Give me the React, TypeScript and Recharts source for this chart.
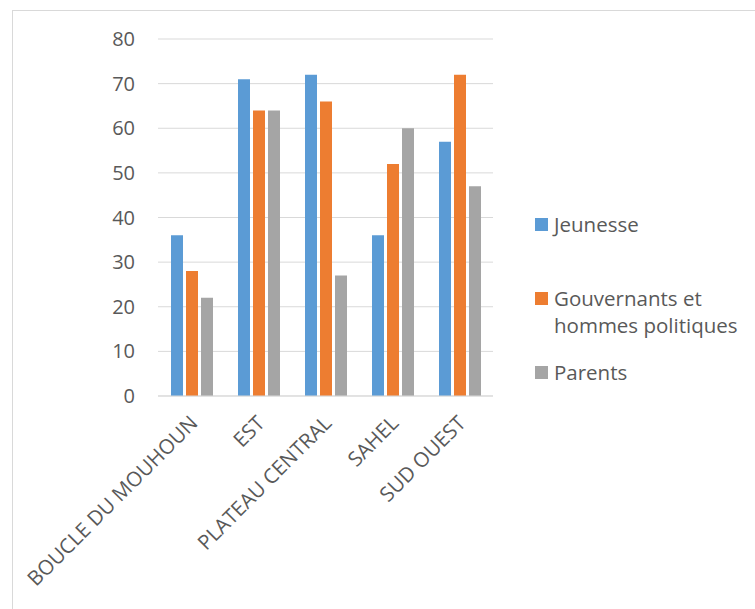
import React from "react";
import { BarChart, Bar, XAxis, YAxis, CartesianGrid, Legend } from "recharts";

const categories = ["BOUCLE DU MOUHOUN", "EST", "PLATEAU CENTRAL", "SAHEL", "SUD OUEST"];
const jeunesse = [36, 71, 72, 36, 57];
const gouvernants = [28, 64, 66, 52, 72];
const parents = [22, 64, 27, 60, 47];
const yTicks = [0, 10, 20, 30, 40, 50, 60, 70, 80];

const seriesNames = ["Jeunesse", "Gouvernants et hommes politiques", "Parents"];
const legendLines: Record<string, string[]> = {
  Jeunesse: ["Jeunesse"],
  "Gouvernants et hommes politiques": ["Gouvernants et", "hommes politiques"],
  Parents: ["Parents"],
};

const data = categories.map((c, i) => ({
  name: c,
  j: jeunesse[i],
  g: gouvernants[i],
  p: parents[i],
}));

const FONT = "'Open Sans', sans-serif";
const TEXT = "#595959";

const XTick = (props: any) => {
  const { x, y, payload } = props;
  const px = x - 5;
  const py = y + 4;
  return (
    <text
      x={px}
      y={py}
      transform={`rotate(-45 ${px} ${py})`}
      textAnchor="end"
      dominantBaseline="hanging"
      fill={TEXT}
      fontSize={20.5}
      fontFamily={FONT}
    >
      {payload.value}
    </text>
  );
};

const LegendContent = (props: any) => {
  const payload = [...(props.payload || [])].sort(
    (a: any, b: any) => seriesNames.indexOf(a.value) - seriesNames.indexOf(b.value)
  );
  return (
    <div style={{ fontFamily: FONT, fontSize: 20.5, color: TEXT }}>
      {payload.map((it: any) => (
        <div key={it.value} style={{ height: 74, display: "flex", alignItems: "flex-start" }}>
          <div style={{ width: 13, height: 13, background: it.color, marginTop: 7, marginRight: 6, flexShrink: 0 }} />
          <div style={{ lineHeight: "27px" }}>
            {(legendLines[it.value] || [it.value]).map((l: string) => (
              <div key={l} style={{ whiteSpace: "nowrap" }}>{l}</div>
            ))}
          </div>
        </div>
      ))}
    </div>
  );
};

export default function App() {
  return (
    <div style={{ position: "fixed", left: 0, top: 0, width: 755, height: 609, overflow: "hidden", background: "#fff" }}>
      <div style={{ position: "absolute", left: 12, top: 10, width: 800, height: 700, border: "1px solid #d9d9d9", boxSizing: "border-box" }} />
      <div style={{ position: "absolute", left: 0, top: 0 }}>
        <BarChart
          width={755}
          height={609}
          data={data}
          margin={{ top: 39, right: 262, bottom: 0, left: 0 }}
          barSize={12}
          barGap={3}
        >
          <CartesianGrid vertical={false} stroke="#d9d9d9" strokeWidth={1} />
          <XAxis
            dataKey="name"
            interval={0}
            tickLine={false}
            axisLine={{ stroke: "#d9d9d9" }}
            tickSize={0}
            tickMargin={12}
            tick={<XTick />}
            height={213}
          />
          <YAxis
            width={158}
            domain={[0, 80]}
            ticks={yTicks}
            interval={0}
            axisLine={false}
            tickLine={false}
            tickSize={0}
            tickMargin={23}
            tick={{ fill: TEXT, fontSize: 20, fontFamily: FONT }}
          />
          <Legend
            layout="vertical"
            verticalAlign="middle"
            align="center"
            content={<LegendContent />}
            wrapperStyle={{ position: "absolute", left: 535, top: 211, width: 218 }}
          />
          <Bar dataKey="j" name={seriesNames[0]} fill="#5B9BD5" isAnimationActive={false} />
          <Bar dataKey="g" name={seriesNames[1]} fill="#ED7D31" isAnimationActive={false} />
          <Bar dataKey="p" name={seriesNames[2]} fill="#A5A5A5" isAnimationActive={false} />
        </BarChart>
      </div>
    </div>
  );
}
